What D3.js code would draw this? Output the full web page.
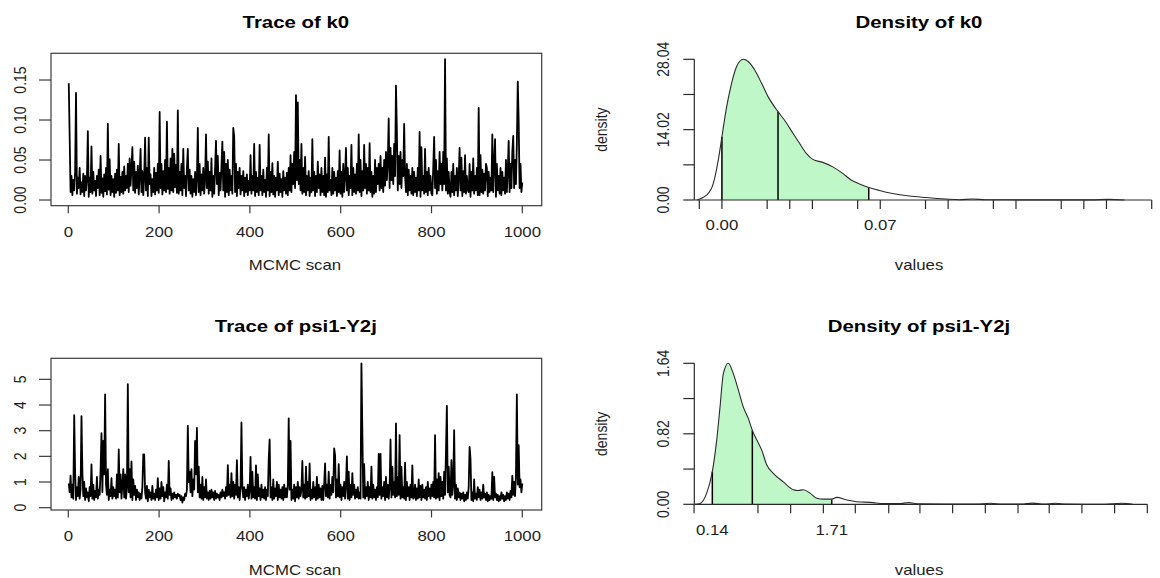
<!DOCTYPE html>
<html><head><meta charset="utf-8">
<script src="https://cdn.jsdelivr.net/npm/d3@7"></script>
<style>body{margin:0;background:#fff}</style>
</head><body>
<svg id="c" width="1160" height="578"></svg>
<script>
// ---------------- data ----------------
const scanCount = 1000;
const titles = ["Trace of k0", "Density of k0", "Trace of psi1-Y2j", "Density of psi1-Y2j"];
const traceXLabel = "MCMC scan";
const densXLabel = "values";
const densYLabel = "density";

// k0 trace, one value every 2 MCMC scans
const k0Trace = [
0.146,0.079,0.010,0.030,0.006,0.025,0.012,0.035,0.134,0.008,0.028,0.015,0.040,0.007,0.022,0.010,0.033,0.005,0.030,0.012,
0.026,0.086,0.004,0.028,0.010,0.067,0.008,0.035,0.012,0.024,0.005,0.030,0.015,0.038,0.006,0.055,0.009,0.027,0.004,0.032,
0.011,0.040,0.007,0.095,0.013,0.051,0.006,0.030,0.010,0.026,0.004,0.033,0.009,0.038,0.012,0.070,0.006,0.029,0.010,0.035,
0.008,0.042,0.012,0.030,0.015,0.045,0.010,0.052,0.018,0.040,0.066,0.012,0.048,0.009,0.035,0.015,0.043,0.007,0.030,0.064,
0.010,0.036,0.006,0.028,0.078,0.012,0.040,0.005,0.078,0.020,0.032,0.005,0.026,0.010,0.040,0.007,0.034,0.012,0.045,0.009,
0.110,0.015,0.045,0.007,0.036,0.012,0.050,0.010,0.098,0.014,0.040,0.008,0.052,0.012,0.064,0.010,0.058,0.016,0.044,0.009,
0.112,0.008,0.035,0.012,0.045,0.006,0.064,0.015,0.030,0.005,0.040,0.064,0.012,0.038,0.008,0.030,0.004,0.026,0.010,0.035,
0.006,0.028,0.090,0.010,0.045,0.006,0.032,0.012,0.040,0.008,0.025,0.082,0.015,0.048,0.008,0.035,0.012,0.052,0.004,0.030,
0.008,0.040,0.074,0.020,0.055,0.006,0.034,0.012,0.042,0.073,0.012,0.060,0.004,0.045,0.010,0.050,0.006,0.038,0.012,0.030,
0.008,0.090,0.080,0.010,0.045,0.005,0.035,0.015,0.040,0.007,0.030,0.012,0.036,0.005,0.028,0.010,0.032,0.006,0.024,0.012,
0.056,0.008,0.030,0.012,0.070,0.005,0.035,0.010,0.028,0.006,0.069,0.012,0.030,0.006,0.038,0.010,0.025,0.004,0.040,0.012,
0.082,0.005,0.035,0.010,0.046,0.007,0.030,0.004,0.028,0.012,0.048,0.006,0.033,0.010,0.026,0.004,0.036,0.012,0.028,0.008,
0.034,0.006,0.040,0.012,0.056,0.010,0.045,0.020,0.060,0.015,0.131,0.025,0.122,0.020,0.050,0.012,0.070,0.008,0.040,0.010,
0.054,0.006,0.030,0.012,0.036,0.005,0.028,0.010,0.076,0.012,0.035,0.005,0.030,0.010,0.048,0.015,0.032,0.006,0.040,0.010,
0.030,0.006,0.053,0.004,0.032,0.010,0.079,0.012,0.025,0.006,0.040,0.008,0.035,0.012,0.028,0.005,0.036,0.010,0.062,0.008,
0.035,0.004,0.045,0.010,0.030,0.065,0.012,0.040,0.006,0.030,0.015,0.069,0.006,0.040,0.010,0.032,0.008,0.045,0.012,0.082,
0.010,0.050,0.005,0.036,0.012,0.069,0.015,0.045,0.008,0.040,0.012,0.071,0.010,0.035,0.004,0.030,0.008,0.050,0.010,0.040,
0.020,0.045,0.012,0.055,0.015,0.040,0.010,0.050,0.018,0.060,0.025,0.048,0.102,0.015,0.065,0.025,0.055,0.020,0.070,0.030,
0.143,0.086,0.012,0.055,0.020,0.060,0.015,0.050,0.030,0.095,0.030,0.010,0.045,0.006,0.038,0.012,0.030,0.008,0.040,0.006,
0.035,0.010,0.028,0.005,0.040,0.012,0.085,0.004,0.066,0.012,0.030,0.008,0.064,0.010,0.035,0.006,0.040,0.012,0.030,0.008,
0.006,0.040,0.079,0.015,0.050,0.008,0.036,0.012,0.060,0.020,0.045,0.012,0.060,0.020,0.176,0.012,0.052,0.008,0.035,0.010,
0.004,0.035,0.010,0.045,0.006,0.030,0.012,0.040,0.005,0.028,0.065,0.012,0.053,0.005,0.036,0.010,0.056,0.008,0.030,0.012,
0.010,0.045,0.004,0.035,0.012,0.052,0.008,0.030,0.012,0.040,0.006,0.115,0.006,0.056,0.010,0.038,0.008,0.033,0.012,0.045,
0.040,0.005,0.035,0.010,0.028,0.012,0.082,0.010,0.045,0.076,0.004,0.045,0.012,0.030,0.008,0.040,0.006,0.035,0.012,0.028,
0.008,0.050,0.010,0.036,0.074,0.010,0.045,0.015,0.060,0.080,0.015,0.050,0.020,0.070,0.148,0.098,0.015,0.045,0.010,0.022];

// psi1-Y2j trace, one value every 2 MCMC scans
const psiTrace = [
0.95,0.60,1.25,0.40,0.90,0.35,3.61,1.40,0.30,0.80,0.45,1.20,0.35,0.70,3.57,1.40,0.45,1.00,0.30,0.75,
0.40,0.60,0.25,0.80,0.45,1.69,0.35,0.90,0.30,0.65,0.40,1.20,0.35,0.70,0.50,1.45,2.90,0.60,2.60,1.30,
4.41,0.90,0.50,1.50,0.30,0.70,0.45,1.15,0.35,0.80,0.45,0.70,0.35,1.30,0.40,2.27,0.60,1.30,0.35,0.90,
1.50,0.40,1.30,0.35,0.80,4.81,0.60,1.50,0.40,1.80,0.30,1.10,0.50,0.85,0.30,0.70,0.40,0.60,0.30,0.55,
0.35,0.80,2.08,2.08,0.60,0.35,0.85,0.25,0.70,0.40,0.60,0.30,0.85,0.35,0.55,0.30,0.70,0.40,1.15,0.30,
0.75,0.35,1.00,0.45,0.80,0.25,0.60,0.40,0.90,0.35,1.82,0.50,0.75,0.30,0.55,0.35,0.60,0.40,0.50,0.35,
0.55,0.45,0.50,0.30,0.45,0.20,0.40,0.30,0.55,0.45,0.70,3.19,1.00,1.40,0.60,1.50,0.45,1.10,0.70,2.60,
1.30,3.11,0.60,1.60,0.40,0.90,0.35,1.20,0.30,0.80,0.40,1.10,0.35,0.60,0.30,0.65,0.35,0.70,0.40,0.60,
0.30,0.65,0.35,0.55,0.40,0.50,0.30,0.60,0.40,0.70,0.45,0.60,0.35,0.80,0.45,1.66,0.50,0.90,0.40,1.35,
0.45,1.00,0.35,0.90,0.50,1.85,0.40,0.80,0.30,0.75,3.32,0.80,0.40,0.80,0.30,0.70,0.45,0.90,0.35,0.70,
1.98,0.35,1.40,0.40,0.80,0.35,1.65,0.30,1.30,0.45,0.75,0.30,0.90,0.40,0.70,0.35,0.80,0.30,0.70,0.45,
1.88,2.66,0.40,0.80,0.30,1.10,0.35,0.75,0.45,1.00,0.30,0.90,0.40,0.70,0.35,0.80,0.30,0.90,0.40,0.75,
0.40,0.90,3.48,0.70,2.60,0.30,0.70,0.35,0.90,0.25,0.80,0.40,1.00,0.35,0.80,0.45,0.70,1.82,0.40,0.90,
0.35,1.60,0.40,1.00,0.45,1.73,0.30,0.70,0.35,1.00,0.40,0.80,0.30,1.20,0.35,0.90,0.40,0.75,0.30,0.85,
0.30,0.90,1.73,0.45,0.90,0.40,1.40,0.35,0.90,0.50,1.20,0.60,2.31,2.05,0.40,1.10,0.45,1.70,0.40,0.90,
0.30,0.80,0.45,1.00,0.35,0.90,2.00,0.35,1.40,0.30,0.90,0.40,1.35,0.50,0.90,0.35,0.70,0.40,0.80,0.35,
0.60,0.35,5.62,3.00,0.40,1.70,0.35,0.80,0.45,1.00,0.30,0.80,0.40,1.60,0.35,0.90,0.40,0.70,0.30,0.80,
0.40,2.10,0.50,2.10,0.35,0.80,0.45,1.00,0.30,1.20,0.40,0.90,0.35,0.80,2.66,0.40,1.60,0.50,1.00,0.40,
3.28,0.45,1.20,0.50,2.83,0.35,1.60,0.40,0.80,0.35,1.75,0.30,1.00,0.45,0.80,0.30,0.90,0.40,1.65,0.35,
0.40,0.90,0.30,0.75,0.35,1.10,0.40,0.85,0.30,0.90,0.40,0.70,0.35,0.80,0.30,1.00,0.45,0.75,0.35,0.90,
0.45,1.00,0.40,2.83,0.35,1.10,0.40,1.35,0.30,1.20,0.45,1.00,0.35,1.40,0.50,2.20,3.97,0.60,1.60,0.50,
0.40,1.85,0.50,0.90,3.02,0.35,0.90,0.30,0.75,0.40,0.60,0.30,0.55,0.35,0.60,0.25,0.50,0.30,0.60,0.35,
0.80,2.37,1.90,0.30,0.60,0.25,1.10,0.35,0.55,0.30,0.80,0.40,0.70,0.30,0.60,0.35,0.90,0.40,0.55,0.30,
0.60,0.25,0.50,0.30,0.45,0.35,1.38,0.30,1.20,0.40,0.55,0.30,0.50,0.25,0.45,0.30,0.60,0.35,0.50,0.25,
0.45,0.30,0.60,0.35,0.55,0.30,0.65,0.40,1.25,0.50,1.00,0.45,1.30,4.41,0.90,2.44,0.80,1.10,0.60,0.95];

const traceXTicks = [0, 200, 400, 600, 800, 1000];
const k0TraceYTicks = [0, 0.05, 0.10, 0.15];
const psiTraceYTicks = [0, 1, 2, 3, 4, 5];
const traceXDomain = [-38.1, 1042.7];
const k0TraceYDomain = [-0.0071, 0.1834];
const psiTraceYDomain = [-0.09, 5.82];

// density of k0
const k0DensX = [-0.0111,-0.0067,-0.0038,-0.0016,0,0.0021,0.0043,0.0065,0.0094,0.0116,0.0145,0.0175,0.0204,0.0248,0.0277,0.0314,0.0343,0.0373,0.0402,0.0446,0.049,0.0534,0.0571,0.0608,0.0649,0.0696,0.0754,0.0828,0.0901,0.0989,0.105,0.1107,0.1166,0.134,0.149,0.163,0.171,0.178];
const k0DensY = [0,1.0,3.3,8.0,12.6,18.6,23.3,26.6,28.04,27.6,25.9,23.3,20.6,17.6,15.9,13.3,11.3,9.3,8.1,7.5,6.6,5.3,4.0,3.2,2.5,1.9,1.3,0.8,0.5,0.2,0.06,0.2,0.05,0.03,0.02,0.02,0.12,0];
const k0Hpd = [0.0, 0.0649];
const k0Median = 0.0248;
const k0HpdLabels = [0.00, 0.07];
const k0DensXTicks = [-0.01,0,0.02,0.03,0.04,0.06,0.07,0.09,0.10,0.12,0.13,0.15,0.16,0.17,0.19];
const k0DensYTicks = [0, 7.01, 14.02, 21.03, 28.04];
const k0DensYLabels = [0, 14.02, 28.04];
const k0DensXDomain = [-0.01, 0.19];

// density of psi1-Y2j
const psiDensX = [-0.087,-0.022,0.066,0.14,0.198,0.241,0.285,0.35,0.416,0.482,0.548,0.613,0.666,0.724,0.79,0.855,0.942,1.074,1.205,1.271,1.337,1.425,1.513,1.60,1.71,1.776,1.907,2.039,2.257,2.345,2.6,2.72,2.85,3.2,3.6,3.8,3.95,4.2,4.35,4.5,4.65,4.8,5.3,5.52,5.67];
const psiDensY = [0,0.01,0.13,0.38,0.75,1.13,1.52,1.64,1.52,1.33,1.13,1.0,0.86,0.75,0.63,0.46,0.36,0.26,0.17,0.16,0.17,0.13,0.07,0.06,0.06,0.08,0.05,0.03,0.02,0.01,0.008,0.02,0.005,0.003,0.002,0.012,0.002,0.002,0.014,0.002,0.012,0.002,0.001,0.012,0];
const psiHpd = [0.14, 1.71];
const psiMedian = 0.666;
const psiHpdLabels = [0.14, 1.71];
const psiDensXTicks = [-0.1,0.74,1.17,1.6,2.02,2.46,2.87,3.3,3.73,4.16,4.57,5.0,5.43,5.86];
const psiDensYTicks = [0, 0.41, 0.82, 1.23, 1.64];
const psiDensYLabels = [0, 0.82, 1.64];
const psiDensXDomain = [-0.097, 5.86];

// ---------------- drawing ----------------
const FONT = "'Liberation Sans', Arial, Helvetica, sans-serif";
const SX = 1.2;
const svg = d3.select("#c");
svg.append("rect").attr("width", 1160).attr("height", 578).attr("fill", "#fff");

function label(g, x, y, txt, o = {}) {
  g.append("text")
    .attr("transform", `translate(${x},${y}) scale(${SX},1)` + (o.rotate ? " rotate(-90)" : ""))
    .attr("text-anchor", "middle")
    .attr("dy", o.dy || 0)
    .style("font-family", FONT)
    .style("font-size", (o.size || 14) + "px")
    .style("font-weight", o.bold ? "bold" : "normal")
    .attr("fill", o.color || "#1e1e1e")
    .text(txt);
}

function drawTrace(cfg) {
  const g = svg.append("g");
  const x = d3.scaleLinear().domain(traceXDomain).range([cfg.x0, cfg.x1]);
  const y = d3.scaleLinear().domain(cfg.yDomain).range([cfg.y1, cfg.y0]);
  const n = cfg.values.length;
  const scan = i => 1 + i * (scanCount - 1) / (n - 1);

  g.append("path").datum(cfg.values)
    .attr("d", d3.line().x((d, i) => x(scan(i))).y(d => y(d)))
    .attr("fill", "none").attr("stroke", "#000").attr("stroke-width", 1.8)
    .attr("stroke-linejoin", "round");

  g.append("rect").attr("x", cfg.x0).attr("y", cfg.y0)
    .attr("width", cfg.x1 - cfg.x0).attr("height", cfg.y1 - cfg.y0)
    .attr("fill", "none").attr("stroke", "#3a3a3a").attr("stroke-width", 1.2);

  g.selectAll(".xt").data(traceXTicks).join("line")
    .attr("x1", d => x(d)).attr("x2", d => x(d))
    .attr("y1", cfg.y1).attr("y2", cfg.y1 + 7.5)
    .attr("stroke", "#3a3a3a").attr("stroke-width", 1.2);
  traceXTicks.forEach(t => label(g, x(t), cfg.xLabY, String(t)));
  g.selectAll(".yt").data(cfg.yTicks).join("line")
    .attr("x1", cfg.x0 - 12).attr("x2", cfg.x0)
    .attr("y1", d => y(d)).attr("y2", d => y(d))
    .attr("stroke", "#3a3a3a").attr("stroke-width", 1.2);
  cfg.yTicks.forEach(t => label(g, 19.5, y(t), cfg.yFmt(t), { rotate: true, dy: "0.36em" }));

  label(g, (cfg.x0 + cfg.x1) / 2 - 0.5, cfg.titleY, cfg.title, { bold: true, size: 17, color: "#000" });
  label(g, 295, cfg.axisTitleY, traceXLabel, { size: 14 });
}

function interp(xs, ys, v) {
  for (let i = 0; i < xs.length - 1; i++) {
    if (v >= xs[i] && v <= xs[i + 1]) {
      const t = (v - xs[i]) / (xs[i + 1] - xs[i]);
      return ys[i] + t * (ys[i + 1] - ys[i]);
    }
  }
  return 0;
}

function drawDensity(cfg) {
  const g = svg.append("g");
  const x = d3.scaleLinear().domain(cfg.xDomain).range([cfg.xa, cfg.xb]);
  const y = d3.scaleLinear().domain([0, d3.max(cfg.yTicks)]).range([cfg.base, cfg.top]);
  const pts = cfg.dx.map((v, i) => [v, cfg.dy[i]]);
  const eps = 1e-9;
  const shade = pts.filter(p => p[0] >= cfg.hpd[0] - eps && p[0] <= cfg.hpd[1] + eps);

  g.append("path").datum(shade)
    .attr("d", d3.area().x(d => x(d[0])).y0(y(0)).y1(d => y(d[1])).curve(d3.curveMonotoneX))
    .attr("fill", "#bff7c9").attr("stroke", "none");

  [cfg.hpd[0], cfg.median, cfg.hpd[1]].forEach(v => {
    g.append("line").attr("x1", x(v)).attr("x2", x(v))
      .attr("y1", y(0)).attr("y2", y(interp(cfg.dx, cfg.dy, v)))
      .attr("stroke", "#000").attr("stroke-width", 1.5);
  });

  g.append("path").datum(pts)
    .attr("d", d3.line().x(d => x(d[0])).y(d => y(d[1])).curve(d3.curveMonotoneX))
    .attr("fill", "none").attr("stroke", "#2a2a2a").attr("stroke-width", 1.1);

  const yAxisX = cfg.yAxisX;
  g.append("line").attr("x1", yAxisX).attr("x2", x(d3.max(cfg.xTicks)))
    .attr("y1", y(0)).attr("y2", y(0)).attr("stroke", "#2a2a2a").attr("stroke-width", 1.2);
  g.selectAll(".xt").data(cfg.xTicks).join("line")
    .attr("x1", d => x(d)).attr("x2", d => x(d))
    .attr("y1", y(0)).attr("y2", y(0) + 9)
    .attr("stroke", "#2a2a2a").attr("stroke-width", 1.2);
  cfg.xLabels.forEach(v => label(g, x(v), cfg.xLabY, v.toFixed(2)));

  g.append("line").attr("x1", yAxisX).attr("x2", yAxisX)
    .attr("y1", y(0)).attr("y2", y(d3.max(cfg.yTicks))).attr("stroke", "#2a2a2a").attr("stroke-width", 1.2);
  g.selectAll(".yt").data(cfg.yTicks).join("line")
    .attr("x1", yAxisX - 11).attr("x2", yAxisX)
    .attr("y1", d => y(d)).attr("y2", d => y(d))
    .attr("stroke", "#2a2a2a").attr("stroke-width", 1.2);
  cfg.yLabels.forEach(v => label(g, 662.7, y(v), v.toFixed(2), { rotate: true, dy: "0.36em" }));

  label(g, 919, cfg.titleY, cfg.title, { bold: true, size: 17, color: "#000" });
  label(g, 919, cfg.axisTitleY, densXLabel, { size: 14 });
  label(g, 601.7, (y(0) + y(d3.max(cfg.yTicks))) / 2, densYLabel, { rotate: true, dy: "0.3em", size: 14 });
}

drawTrace({ values: k0Trace, x0: 51, x1: 541.7, y0: 53.3, y1: 205.7, yDomain: k0TraceYDomain,
  yTicks: k0TraceYTicks, yFmt: d3.format(".2f"), title: titles[0], titleY: 28.3, xLabY: 237.3, axisTitleY: 270 });
drawTrace({ values: psiTrace, x0: 51, x1: 541.7, y0: 358.3, y1: 510, yDomain: psiTraceYDomain,
  yTicks: psiTraceYTicks, yFmt: d3.format("d"), title: titles[2], titleY: 332.3, xLabY: 540.7, axisTitleY: 575 });

drawDensity({ dx: k0DensX, dy: k0DensY, hpd: k0Hpd, median: k0Median, xLabels: k0HpdLabels,
  xTicks: k0DensXTicks, yTicks: k0DensYTicks, yLabels: k0DensYLabels, xDomain: k0DensXDomain,
  xa: 699.3, xb: 1151.7, base: 200, top: 59.3, yAxisX: 694.3,
  title: titles[1], titleY: 28.3, xLabY: 230, axisTitleY: 270 });
drawDensity({ dx: psiDensX, dy: psiDensY, hpd: psiHpd, median: psiMedian, xLabels: psiHpdLabels,
  xTicks: psiDensXTicks, yTicks: psiDensYTicks, yLabels: psiDensYLabels, xDomain: psiDensXDomain,
  xa: 694.3, xb: 1147.3, base: 504.3, top: 363.3, yAxisX: 694.3,
  title: titles[3], titleY: 332.3, xLabY: 535, axisTitleY: 575 });
</script>
</body></html>
